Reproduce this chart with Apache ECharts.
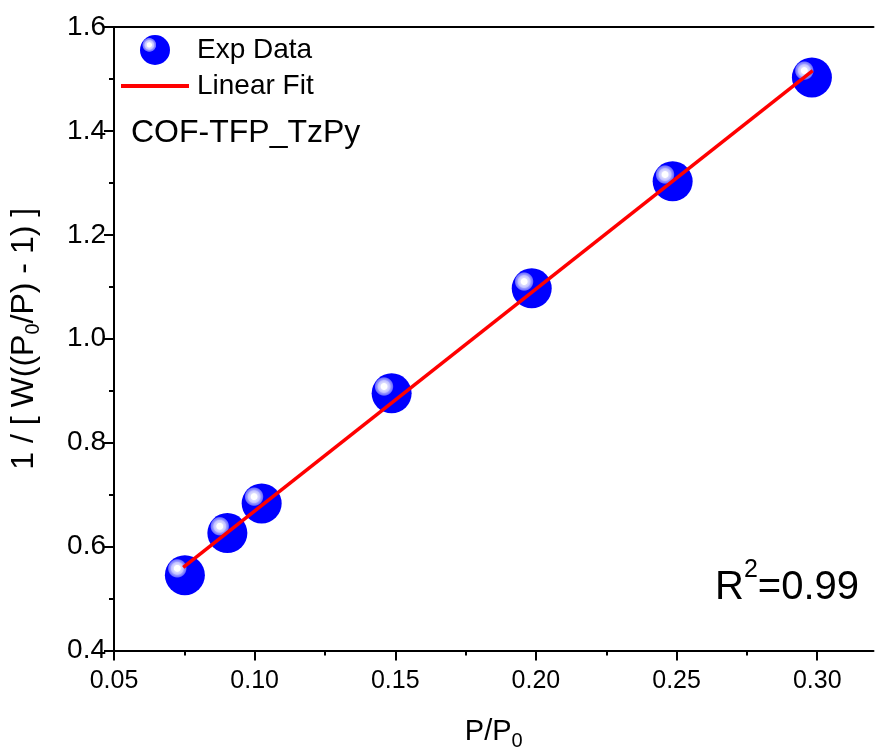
<!DOCTYPE html>
<html>
<head>
<meta charset="utf-8">
<script src="https://cdn.jsdelivr.net/npm/echarts@6/dist/echarts.min.js"></script>
<style>
html,body{margin:0;padding:0;background:#fff;}
#chart{width:876px;height:749px;}
</style>
</head>
<body>
<div id="chart"></div>
<script>
// ---- data ----
var expX = [0.0752, 0.0903, 0.1025, 0.1487, 0.1985, 0.2486, 0.2981];
var expY = [0.545, 0.626, 0.683, 0.895, 1.097, 1.303, 1.503];
var fitX = [0.0746, 0.2984];
var fitY = [0.560, 1.516];
var xTicks = [0.05, 0.10, 0.15, 0.20, 0.25, 0.30];
var yTicks = [0.4, 0.6, 0.8, 1.0, 1.2, 1.4, 1.6];
var sampleName = 'COF-TFP_TzPy';
var r2Text = '0.99';

var FONT = '"Liberation Sans", Arial, sans-serif';

var expData = expX.map(function (x, i) { return [x, expY[i]]; });
var fitData = fitX.map(function (x, i) { return [x, fitY[i]]; });

var sphere = {
  type: 'radial', x: 0.31, y: 0.33, r: 0.5, global: false,
  colorStops: [
    { offset: 0, color: '#ffffff' },
    { offset: 0.15, color: '#ffffff' },
    { offset: 0.19, color: '#dcdcff' },
    { offset: 0.30, color: '#c0c0ff' },
    { offset: 0.34, color: '#9a9aff' },
    { offset: 0.43, color: '#7070ff' },
    { offset: 0.48, color: '#0000ff' },
    { offset: 1, color: '#0000ff' }
  ]
};

var chart = echarts.init(document.getElementById('chart'), null, { renderer: 'canvas' });

var axisCommon = {
  axisLine: { show: true, onZero: false, lineStyle: { color: '#000', width: 2 } },
  axisTick: { show: true, inside: false, length: 10, lineStyle: { color: '#000', width: 2 } },
  minorTick: { show: true, splitNumber: 2, length: 5, lineStyle: { color: '#000', width: 2 } },
  splitLine: { show: false },
  minorSplitLine: { show: false }
};

var subRich = function (size, subSize, pad) {
  return {
    m: { fontSize: size, fontFamily: FONT, color: '#000', lineHeight: size + 4, verticalAlign: 'top' },
    s: { fontSize: subSize, fontFamily: FONT, color: '#000', lineHeight: subSize + 1, padding: [pad, 0, 0, 0], verticalAlign: 'top' }
  };
};

var option = {
  backgroundColor: '#fff',
  animation: false,
  grid: { left: 114, top: 27, right: 2.5, bottom: 98.5, containLabel: false, outerBoundsMode: 'none' },
  legend: {
    orient: 'vertical',
    left: 121, top: 35,
    padding: 0,
    itemWidth: 68, itemHeight: 30, itemGap: 7,
    textStyle: { fontSize: 28, color: '#000', fontFamily: FONT, padding: [0, 0, 0, 3] },
    data: [
      { name: 'Exp Data' },
      { name: 'Linear Fit', icon: 'path://M0,0 L68,0 L68,4 L0,4 Z' }
    ]
  },
  xAxis: [
    Object.assign({}, axisCommon, {
      type: 'value', min: 0.05, max: 0.32, interval: 0.05,
      position: 'bottom',
      axisTick: Object.assign({}, axisCommon.axisTick, { customValues: xTicks }),
      axisLabel: {
        customValues: xTicks, margin: 18,
        fontSize: 25, color: '#000', fontFamily: FONT,
        formatter: function (v) { return v.toFixed(2); }
      },
      name: '{m|P/P}{s|0}',
      nameLocation: 'middle', nameGap: 67,
      nameTextStyle: { fontFamily: FONT, color: '#000', rich: subRich(29, 20, 14) }
    }),
    {
      type: 'value', min: 0.05, max: 0.32, position: 'top',
      axisLine: { show: true, onZero: false, lineStyle: { color: '#000', width: 2 } },
      axisTick: { show: false }, axisLabel: { show: false }, splitLine: { show: false }
    }
  ],
  yAxis: [
    Object.assign({}, axisCommon, {
      type: 'value', min: 0.4, max: 1.6, interval: 0.2,
      position: 'left',
      axisLabel: {
        margin: 8, fontSize: 28, color: '#000', fontFamily: FONT,
        formatter: function (v) { return v.toFixed(1); }
      },
      name: '{m|1 / [ W((P}{s|0}{m|/P) - 1) ]}',
      nameLocation: 'middle', nameGap: 70, nameRotate: 90,
      nameTextStyle: { fontFamily: FONT, color: '#000', rich: subRich(32, 20, 15) }
    })
  ],
  series: [
    {
      name: 'Exp Data', type: 'scatter',
      data: expData,
      symbol: 'circle', symbolSize: 40,
      itemStyle: { color: sphere, opacity: 1 },
      z: 2
    },
    {
      name: 'Linear Fit', type: 'line',
      data: fitData,
      symbol: 'none', showSymbol: false,
      lineStyle: { color: '#ff0000', width: 3.5 },
      itemStyle: { color: '#ff0000' },
      z: 3
    }
  ],
  graphic: [
    {
      type: 'text', left: 131, top: 117,
      style: { text: sampleName, fontSize: 32, fontFamily: FONT, fill: '#000' }
    },
    {
      type: 'text', left: 715, top: 558,
      style: {
        text: '{a|R}{b|2}{a|=' + r2Text + '}',
        rich: {
          a: { fontSize: 40, fontFamily: FONT, fill: '#000', lineHeight: 50, verticalAlign: 'bottom' },
          b: { fontSize: 25, fontFamily: FONT, fill: '#000', lineHeight: 26, verticalAlign: 'top' }
        }
      }
    }
  ]
};

chart.setOption(option);
</script>
</body>
</html>
